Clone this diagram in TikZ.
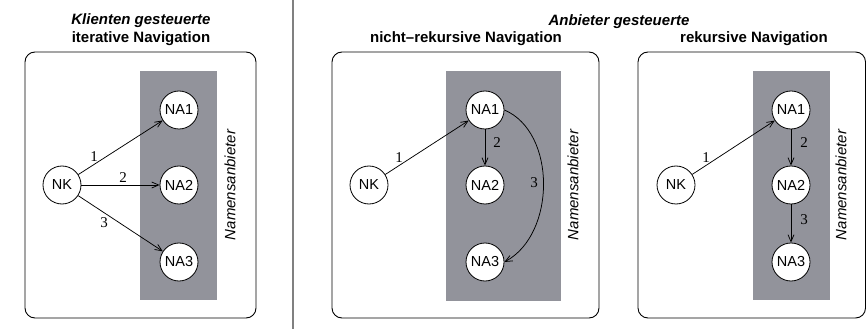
\documentclass[tikz,border=0pt]{standalone}
\usepackage{fontspec}
\setmainfont{Liberation Serif}
\newfontfamily\sansfont{Liberation Sans}
\usetikzlibrary{arrows.meta}
\definecolor{provider}{RGB}{146,147,155}
\definecolor{divider}{RGB}{128,128,128}
\tikzset{
  panel/.style={draw=black, line width=0.9pt, rounded corners=10pt},
  zone/.style={fill=provider, draw=none},
  nsnode/.style={circle, draw=black, fill=white, line width=0.8pt, minimum size=38pt, inner sep=0pt,
    font=\sansfont\fontsize{14.5}{16}\selectfont},
  zonelabel/.style={rotate=90, font=\sansfont\itshape\fontsize{15}{17}\selectfont},
  steplabel/.style={font=\fontsize{15}{17}\selectfont, inner sep=0pt},
  titlea/.style={font=\sansfont\bfseries\itshape\fontsize{15}{17}\selectfont},
  titleb/.style={font=\sansfont\bfseries\fontsize{15}{17}\selectfont},
  msg/.style={line width=0.75pt, -{Straight Barb[length=7pt,width=6pt]}},
}
\begin{document}
\begin{tikzpicture}[x=1pt, y=-1pt]
\useasboundingbox (0,0) rectangle (867,331);

% divider between client- and provider-driven variants
\draw[divider, line width=1.6pt] (293,0) -- (293,329);

% titles
\node[titlea] (t1a) at (141,21) {Klienten gesteuerte};
\node[titleb] (t1b) at (141,39) {iterative Navigation};
\node[titlea] (t2a) at (619,22) {Anbieter gesteuerte};
\node[titleb] (t2b) at (466,39) {nicht\textendash rekursive Navigation};
\node[titleb] (t3b) at (754,39) {rekursive Navigation};

% ---------- iterative navigation ----------
\draw[panel] (25,52) rectangle (256,318);
\fill[zone] (140,71) rectangle (217,300);
\node[zonelabel] (z1) at (230,185) {Namensanbieter};
\node[nsnode] (nk1) at (62,185) {NK};
\node[nsnode] (a11) at (179,110) {NA1};
\node[nsnode] (a12) at (179,185) {NA2};
\node[nsnode] (a13) at (179,262) {NA3};
\draw[msg] (nk1) -- (a11);
\draw[msg] (nk1) -- (a12);
\draw[msg] (nk1) -- (a13);
\node[steplabel] (s11) at (94,157) {1};
\node[steplabel] (s12) at (123,178) {2};
\node[steplabel] (s13) at (104,223) {3};

% ---------- non-recursive navigation ----------
\draw[panel] (332,52) rectangle (599,318);
\fill[zone] (446,71) rectangle (561,301);
\node[zonelabel] (z2) at (573,185) {Namensanbieter};
\node[nsnode] (nk2) at (369,185) {NK};
\node[nsnode] (a21) at (485,110) {NA1};
\node[nsnode] (a22) at (485,185) {NA2};
\node[nsnode] (a23) at (485,262) {NA3};
\draw[msg] (nk2) -- (a21);
\draw[msg] (a21) -- (a22);
\draw[msg] (a21.east) .. controls +(52,22) and +(52,-28) .. (a23.east);
\node[steplabel] (s21) at (399,158) {1};
\node[steplabel] (s22) at (497,143) {2};
\node[steplabel] (s23) at (534,183) {3};

% ---------- recursive navigation ----------
\draw[panel] (638,52) rectangle (865.5,318);
\fill[zone] (753,71) rectangle (830,300);
\node[zonelabel] (z3) at (841,185) {Namensanbieter};
\node[nsnode] (nk3) at (676,185) {NK};
\node[nsnode] (a31) at (791,110) {NA1};
\node[nsnode] (a32) at (791,185) {NA2};
\node[nsnode] (a33) at (791,262) {NA3};
\draw[msg] (nk3) -- (a31);
\draw[msg] (a31) -- (a32);
\draw[msg] (a32) -- (a33);
\node[steplabel] (s31) at (706,158) {1};
\node[steplabel] (s32) at (804,143) {2};
\node[steplabel] (s33) at (804,220) {3};
\end{tikzpicture}
\end{document}
